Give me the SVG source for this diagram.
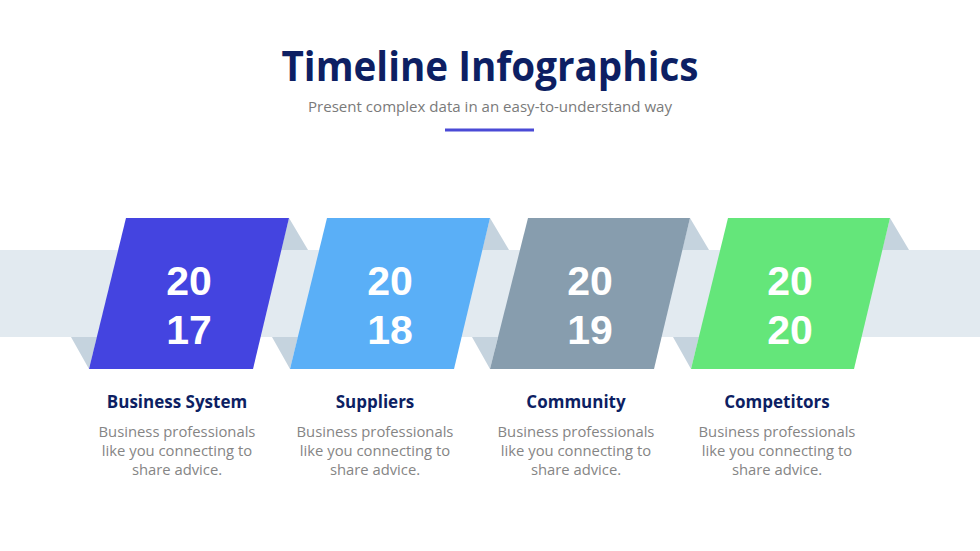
<svg xmlns="http://www.w3.org/2000/svg" width="980" height="551" viewBox="0 0 980 551">
<style>
.title{font-family:"Open Sans","Liberation Sans",sans-serif;font-weight:700;fill:#0d1f63}
.sub{font-family:"Open Sans","Liberation Sans",sans-serif;fill:#7a7a7a;font-size:15px}
.year{font-family:"Liberation Sans","Open Sans",sans-serif;font-weight:700;fill:#ffffff;font-size:41px;text-anchor:middle}
.head{font-family:"Open Sans","Liberation Sans",sans-serif;font-weight:700;fill:#0d1f63;font-size:17px;text-anchor:middle}
.body{font-family:"Open Sans","Liberation Sans",sans-serif;fill:#858585;font-size:14.8px;text-anchor:middle}
.fold{fill:#c5d3de}
</style>
<rect width="980" height="551" fill="#ffffff"/>
<g id="header">
<text class="title" x="490" y="81" font-size="42" text-anchor="middle" textLength="417" lengthAdjust="spacingAndGlyphs">Timeline Infographics</text>
<text class="sub" x="490" y="112" text-anchor="middle" textLength="364" lengthAdjust="spacingAndGlyphs">Present complex data in an easy-to-understand way</text>
<rect x="445" y="128.5" width="89" height="3" fill="#4a4ad6"/>
</g>
<g id="band">
<rect x="0" y="250" width="980" height="87" fill="#e2eaf0"/>
</g>
<g id="item-2017">
<polygon class="fold" points="289,218 308,250 281,250"/>
<polygon class="fold" points="71,337 97,337 89,369"/>
<polygon points="126,218 289,218 253,369 89,369" fill="#4444e0"/>
<text class="year" x="189" y="295">20</text>
<text class="year" x="189" y="344">17</text>
<text class="head" x="177" y="408">Business System</text>
<text class="body" x="177" y="437">Business professionals</text>
<text class="body" x="177" y="456">like you connecting to</text>
<text class="body" x="177" y="475">share advice.</text>
</g>
<g id="item-2018">
<polygon class="fold" points="490,218 509,250 482,250"/>
<polygon class="fold" points="272,337 298,337 290,369"/>
<polygon points="327,218 490,218 454,369 290,369" fill="#5aaff7"/>
<text class="year" x="390" y="295">20</text>
<text class="year" x="390" y="344">18</text>
<text class="head" x="375" y="408">Suppliers</text>
<text class="body" x="375" y="437">Business professionals</text>
<text class="body" x="375" y="456">like you connecting to</text>
<text class="body" x="375" y="475">share advice.</text>
</g>
<g id="item-2019">
<polygon class="fold" points="690,218 709,250 682,250"/>
<polygon class="fold" points="472,337 498,337 490,369"/>
<polygon points="528,218 690,218 654,369 490,369" fill="#879dae"/>
<text class="year" x="590" y="295">20</text>
<text class="year" x="590" y="344">19</text>
<text class="head" x="576" y="408">Community</text>
<text class="body" x="576" y="437">Business professionals</text>
<text class="body" x="576" y="456">like you connecting to</text>
<text class="body" x="576" y="475">share advice.</text>
</g>
<g id="item-2020">
<polygon class="fold" points="890,218 909,250 882,250"/>
<polygon class="fold" points="673,337 699,337 691,369"/>
<polygon points="728,218 890,218 854,369 691,369" fill="#64e67a"/>
<text class="year" x="790" y="295">20</text>
<text class="year" x="790" y="344">20</text>
<text class="head" x="777" y="408">Competitors</text>
<text class="body" x="777" y="437">Business professionals</text>
<text class="body" x="777" y="456">like you connecting to</text>
<text class="body" x="777" y="475">share advice.</text>
</g>
<g id="connectors"></g>
</svg>
